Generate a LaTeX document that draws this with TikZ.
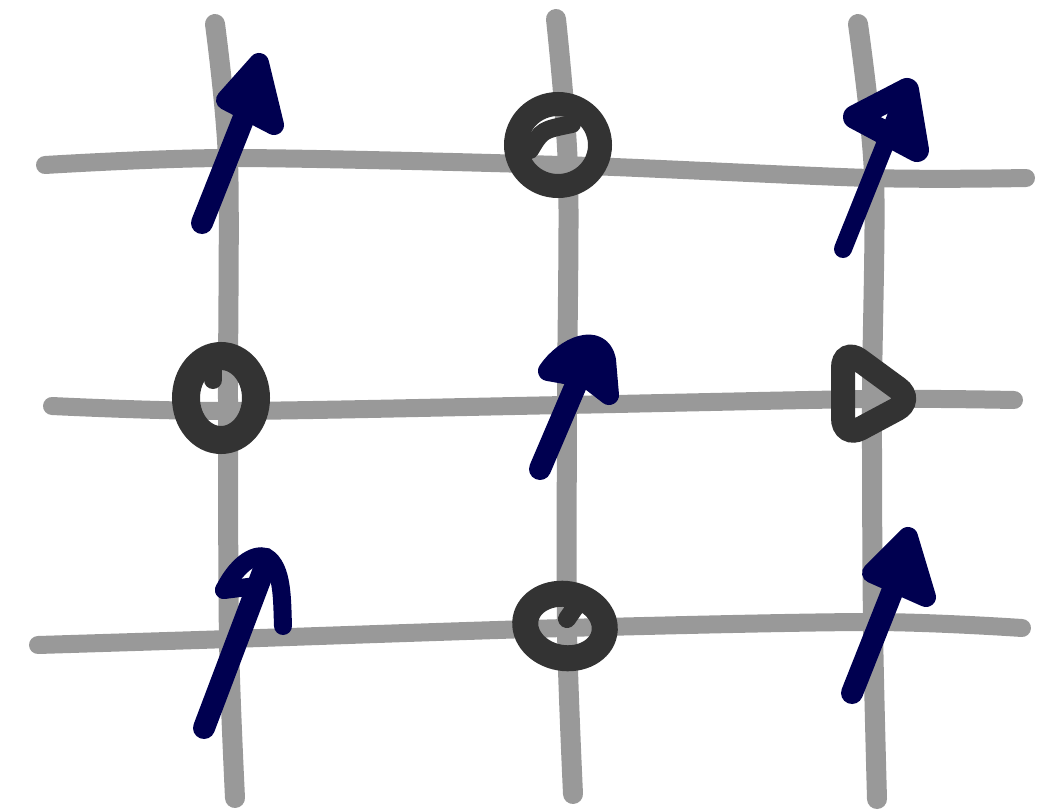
\documentclass[tikz,border=0pt]{standalone}
\usepackage{tikz}
\usetikzlibrary{calc}
\definecolor{gridgray}{RGB}{153,153,153}
\definecolor{spinblue}{RGB}{0,0,80}
\definecolor{holegray}{RGB}{51,51,51}

\begin{document}
\begin{tikzpicture}[x=1pt,y=-1pt,
  gridline/.style={gridgray, line width=18pt, line cap=round},
  spinline/.style={spinblue, line width=22pt, line cap=round},
  spinhead/.style={spinblue, fill=spinblue, line width=20pt, line join=round, line cap=round},
  hole/.style={holegray, line width=24pt, line cap=round}]
  \useasboundingbox (0,0) rectangle (1053,811);

  % lattice
  \draw[gridline, line width=20pt] plot[smooth] coordinates {(215,24) (228,160) (228,400) (229,640) (235,798)};
  \draw[gridline, line width=20pt] plot[smooth] coordinates {(556,19) (568,170) (567,405) (567,630) (573,794)};
  \draw[gridline, line width=20pt] plot[smooth] coordinates {(858,24) (874,175) (872,400) (873,625) (877,799)};
  \draw[gridline] plot[smooth] coordinates {(45,165) (230,158) (560,165) (870,178) (1026,178)};
  \draw[gridline] plot[smooth] coordinates {(52,406) (228,411) (565,405) (870,399) (1014,400)};
  \draw[gridline] plot[smooth] coordinates {(38,645) (230,639) (565,628) (870,622) (1022,628)};

  % spins
  \draw[spinline] (202,223) -- (252,97);
  \draw[spinhead] (259,63) -- (226,100) -- (274,125) -- cycle;

  \draw[spinline, line width=18pt] (843,249) -- (898,112);
  \draw[spinhead, fill=none, line width=24pt] (907,90) -- (855,117) -- (917,150) -- cycle;

  \draw[spinline] (540,469) -- (590,352);
  \draw[spinhead] (548,371) .. controls (565,346) and (600,332) .. (606,360) -- (609,395) -- (587,378) -- cycle;

  \draw[spinline] (204,728) -- (263,572);
  \draw[spinline, line width=18pt] (224,590) .. controls (236,566) and (253,553) .. (266,557)
        .. controls (283,567) and (282,600) .. (283,626);
  \draw[spinline, line width=18pt] (224,590) -- (256,586);

  \draw[spinline] (852,693) -- (900,572);
  \draw[spinhead] (908,537) -- (872,573) -- (926,597) -- cycle;

  % holes
  \draw[hole] (558,145) ellipse [x radius=42, y radius=41];
  \draw[hole, line width=18pt] (530,150) .. controls (542,130) .. (572,124);

  \draw[hole, line width=28pt] (221,398) ellipse [x radius=35, y radius=42];
  \draw[hole, line width=18pt] (213,366) -- (213,380);

  \draw[hole, rounded corners=20pt] (843,348) -- (914,400) -- (843,438) -- cycle;

  \draw[hole, line width=26pt, rotate around={-10:(565,626)}] (565,626) ellipse [x radius=40, y radius=32];
  \draw[hole, line width=18pt] (576,606) -- (567,619);
\end{tikzpicture}
\end{document}
